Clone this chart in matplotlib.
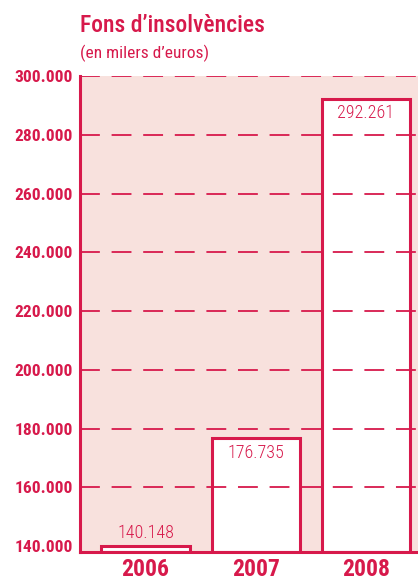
import numpy as np
import matplotlib
matplotlib.use("Agg")
import matplotlib.pyplot as plt

# DADES
years = ["2006", "2007", "2008"]
values = [140148, 176735, 292261]
yticks = [140000, 160000, 180000, 200000, 220000, 240000, 260000, 280000, 300000]
base = 138000

RED = "#d7194b"
PINK = "#f8e1dd"
NARROW = ["Roboto Condensed", "Archivo Narrow", "DejaVu Sans"]

def fmt(v):
    return f"{v:,}".replace(",", ".")

fig = plt.figure(figsize=(4.18, 5.82), dpi=100)
ax = fig.add_axes([80/418, 30/582, 338/418, 476/582])
ax.set_facecolor(PINK)

x = np.arange(len(years))
bars = ax.bar(x, [v - base for v in values], bottom=base, width=0.8,
              color="white", edgecolor=RED, linewidth=2.2, zorder=2)

# linies discontinues per sobre (no a la base)
for t in yticks[1:]:
    ax.axhline(t, color=RED, lw=1.3, ls=(0, (11, 6.5)), zorder=3)

for i, v in enumerate(values):
    if i == 0:
        ax.annotate(fmt(v), (x[i], v), xytext=(0, 3), textcoords="offset points",
                    ha="center", va="bottom", color=RED, fontsize=13,
                    family=NARROW, fontweight="light", zorder=4)
    else:
        ax.annotate(fmt(v), (x[i], v), xytext=(0, -4), textcoords="offset points",
                    ha="center", va="top", color=RED, fontsize=13,
                    family=NARROW, fontweight="light", zorder=4)

ax.set_xlim(-0.594, 2.472)
ax.set_ylim(base, 300000)
ax.set_yticks(yticks)
ax.set_yticklabels([fmt(t) for t in yticks], color=RED, fontsize=12.5,
                   fontweight="bold", family=NARROW)
ax.set_xticks(x)
ax.set_xticklabels(years, color=RED, fontsize=17, fontweight="bold", family=NARROW)
ax.tick_params(axis="both", length=0)
ax.tick_params(axis="y", pad=5)
ax.tick_params(axis="x", pad=4)

for s in ["top", "right"]:
    ax.spines[s].set_visible(False)
for s in ["left", "bottom"]:
    ax.spines[s].set_color(RED)
    ax.spines[s].set_linewidth(2.2)
    ax.spines[s].set_zorder(5)

fig.text(80/418, 1 - 32/582, "Fons d’insolvències", color=RED, fontsize=17,
         family=NARROW, fontweight="medium", va="baseline", ha="left")
fig.text(80/418, 1 - 58/582, "(en milers d’euros)", color=RED, fontsize=12.5,
         family=NARROW, fontweight="normal", va="baseline", ha="left")

fig.savefig("out.png", dpi=100)
